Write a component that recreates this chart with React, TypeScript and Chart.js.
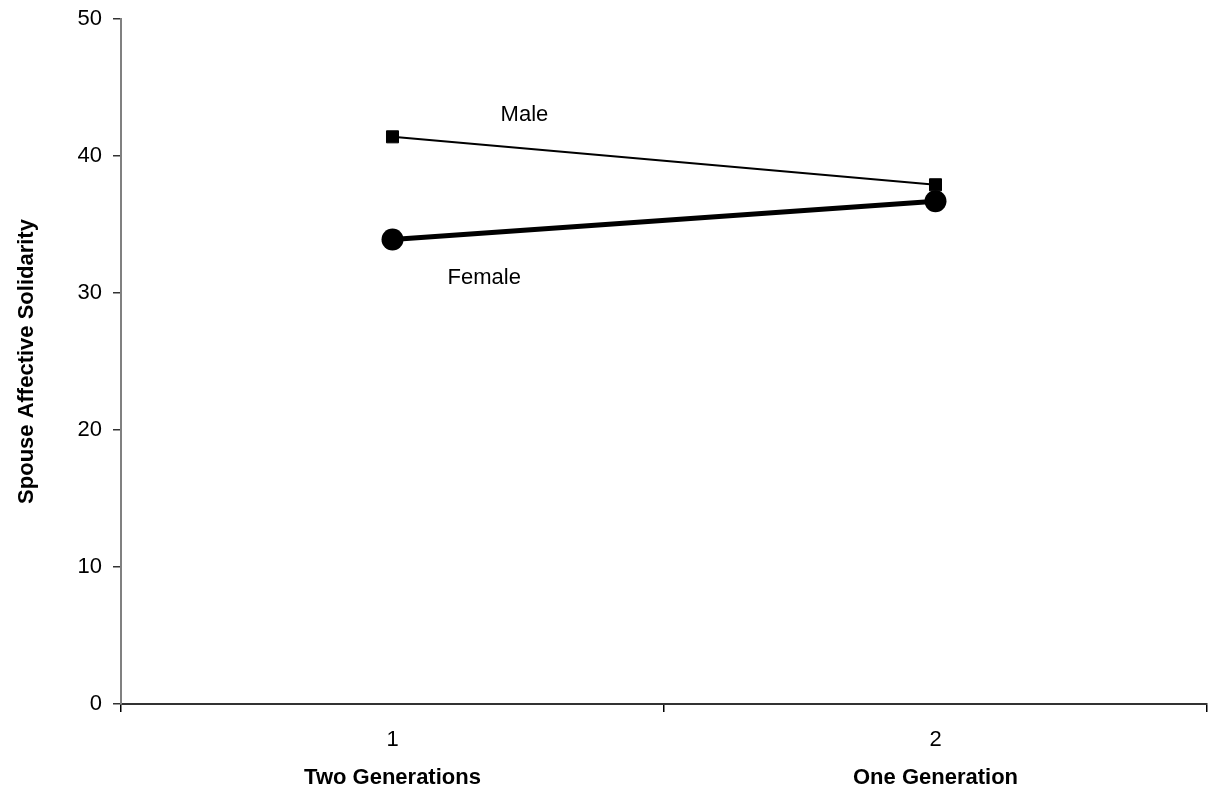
import React, { useEffect, useRef } from "react";
import { Chart, registerables } from "chart.js";

Chart.register(...registerables);

const categories = ["1", "2"];
const groupLabels = ["Two Generations", "One Generation"];
const maleValues = [41.4, 37.9];
const femaleValues = [33.9, 36.7];
const yTicks = [0, 10, 20, 30, 40, 50];
const seriesNotes = [
  { text: "Male", x: 0.243, y: 43.0 },
  { text: "Female", x: 0.169, y: 31.1 },
];

const FONT = "'Liberation Sans', Arial, sans-serif";

const annotatePlugin = {
  id: "annotate",
  afterDraw(chart: any) {
    const { ctx, scales } = chart;
    const xs = scales.x;
    const ys = scales.y;
    ctx.save();
    ctx.fillStyle = "#000";
    ctx.textAlign = "center";
    ctx.textBaseline = "middle";
    ctx.font = `22px ${FONT}`;
    seriesNotes.forEach((n) => {
      ctx.fillText(n.text, xs.getPixelForValue(n.x), ys.getPixelForValue(n.y));
    });
    ctx.font = `bold 22px ${FONT}`;
    groupLabels.forEach((g, i) => {
      ctx.fillText(g, xs.getPixelForValue(i), chart.chartArea.bottom + 74);
    });
    ctx.restore();
  },
};

export default function App() {
  const ref = useRef<HTMLCanvasElement | null>(null);
  useEffect(() => {
    if (!ref.current) return;
    const chart = new Chart(ref.current, {
      type: "line",
      data: {
        labels: categories,
        datasets: [
          {
            label: "Male",
            data: maleValues,
            borderColor: "#000",
            backgroundColor: "#000",
            borderWidth: 2,
            pointStyle: "rect",
            pointRadius: 8.5,
            pointBorderWidth: 1,
            order: 1,
          },
          {
            label: "Female",
            data: femaleValues,
            borderColor: "#000",
            backgroundColor: "#000",
            borderWidth: 5,
            pointStyle: "circle",
            pointRadius: 11,
            pointBorderWidth: 0,
            order: 0,
          },
        ],
      },
      options: {
        animation: false,
        responsive: true,
        maintainAspectRatio: false,
        layout: { autoPadding: false, padding: { left: 0, top: 11, right: 2, bottom: 0 } },
        plugins: {
          legend: { display: false },
          tooltip: { enabled: false },
        },
        scales: {
          x: {
            type: "category",
            offset: true,
            grid: {
              offset: true,
              drawOnChartArea: false,
              drawTicks: true,
              tickLength: 8,
              tickColor: "#000",
              lineWidth: 1.5,
            },
            border: { display: true, color: "#333", width: 2 },
            ticks: {
              color: "#000",
              font: { family: FONT, size: 22 },
              padding: 15,
              maxRotation: 0,
            },
            afterFit(scale: any) {
              scale.height = 81;
              scale.paddingLeft = 0;
              scale.paddingRight = 0;
            },
          },
          y: {
            min: 0,
            max: 50,
            afterBuildTicks(scale: any) {
              scale.ticks = yTicks.map((v) => ({ value: v }));
            },
            grid: {
              drawOnChartArea: false,
              drawTicks: true,
              tickLength: 8,
              tickColor: "#333",
              lineWidth: 1.5,
            },
            border: { display: true, color: "#808080", width: 2 },
            ticks: {
              color: "#000",
              font: { family: FONT, size: 22 },
              padding: 11,
            },
            title: {
              display: true,
              text: "Spouse Affective Solidarity",
              color: "#000",
              font: { family: FONT, size: 22, weight: "bold" },
              padding: { top: 6, bottom: 0 },
            },
            afterFit(scale: any) {
              scale.width = 113;
              scale.paddingTop = 0;
              scale.paddingBottom = 0;
            },
          },
        },
      },
      plugins: [annotatePlugin],
    });
    return () => chart.destroy();
  }, []);
  return (
    <div style={{ position: "relative", width: "1201px", height: "777px" }}>
      <canvas ref={ref} />
    </div>
  );
}
